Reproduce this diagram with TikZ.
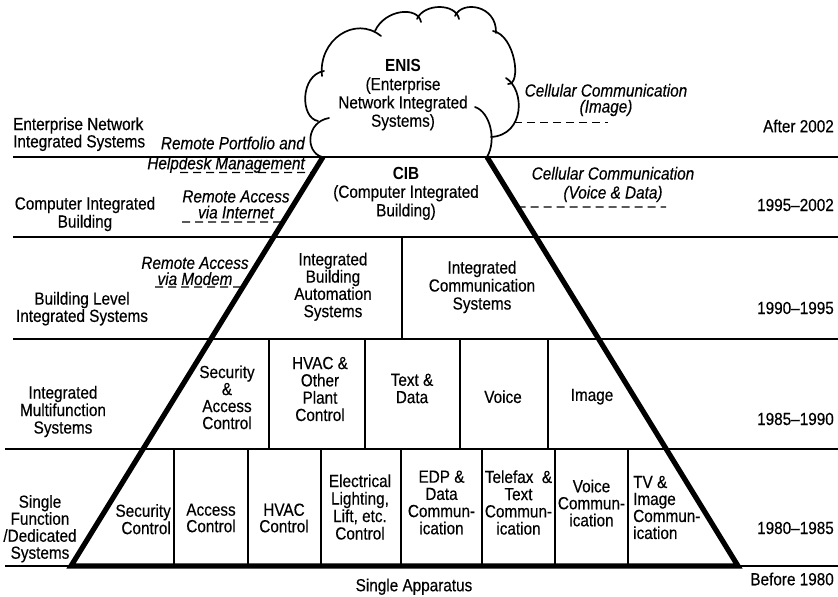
\documentclass[tikz,border=0pt]{standalone}
\usepackage{fontspec}
\setmainfont{Liberation Sans}[FakeStretch=0.875,
  UprightFeatures={FakeBold=0.35}, ItalicFeatures={FakeBold=0.35}]
\usetikzlibrary{calc}
\newcommand\tsz[1]{\fontsize{17.5}{#1}\selectfont}
\begin{document}
\begin{tikzpicture}[x=1pt,y=-1pt,
  lbl/.style={inner sep=0pt, align=center, font=\tsz{#1}},
  lbl/.default=17.3,
  it/.style={inner sep=0pt, align=center, font=\tsz{#1}\itshape},
  it/.default=17.3,
  hline/.style={line width=1.4pt},
  vline/.style={line width=1.4pt},
  edgeline/.style={line width=5.2pt, line join=miter},
  leader/.style={line width=1.3pt, dash pattern=on 8pt off 5pt},
  cloudline/.style={line width=1.7pt, line cap=round}]
\useasboundingbox (0,0) rectangle (838,597);

% pyramid corners
\coordinate (TL) at (323,157);
\coordinate (TR) at (487,157);
\coordinate (BL) at (71,566);
\coordinate (BR) at (738,566);

% horizontal bands
\draw[hline] (13,157) -- (838,157);
\draw[hline] (13,237) -- (838,237);
\draw[hline] (13,339) -- (838,339);
\draw[hline] (5,449) -- (838,449);
\draw[hline] (5,566) -- (838,566);

% vertical dividers
\draw[vline] (402,237) -- (402,339);
\foreach \x in {269,365,460,548} \draw[vline] (\x,339) -- (\x,449);
\foreach \x in {174,248,321,401,482,555,628} \draw[vline] (\x,449) -- (\x,566);

% dashed leaders
\coordinate (p1a) at (180,172.5);
\coordinate (p1b) at ($(TL)!0.038!(BL)$);
\coordinate (p2a) at (182,222);
\coordinate (p2b) at ($(TL)!0.159!(BL)$);
\coordinate (p3a) at (155,287);
\coordinate (p3b) at ($(TL)!0.3178!(BL)$);
\coordinate (p4a) at (514,122.7);
\coordinate (p4b) at (608,122.7);
\coordinate (p5a) at ($(TR)!0.1222!(BR)$);
\coordinate (p5b) at (666,207);
\draw[leader] (p1a) -- (p1b);
\draw[leader] (p2a) -- (p2b);
\draw[leader] (p3a) -- (p3b);
\draw[leader] (p4a) -- (p4b);
\draw[leader] (p5a) -- (p5b);

% pyramid outline
\draw[edgeline] (TL) -- (BL) -- (BR) -- (TR);

% cloud
\draw[cloudline] (322,157) .. controls (305,152) and (306,122) .. (329,118);
\draw[cloudline] (318,121) .. controls (300,118) and (300,75) .. (324,71);
\draw[cloudline] (322,76) .. controls (318,40) and (355,15) .. (381,36);
\draw[cloudline] (375,31) .. controls (385,9) and (418,6) .. (421,22);
\draw[cloudline] (417,19) .. controls (424,3) and (456,3) .. (459,19);
\draw[cloudline] (455,16) .. controls (462,0) and (497,5) .. (496,33);
\draw[cloudline] (493,31) .. controls (515,35) and (522,85) .. (508,84);
\draw[cloudline] (506,78) .. controls (525,90) and (525,135) .. (491,137);
\draw[cloudline] (475,107) .. controls (490,112) and (497,140) .. (487,157);

% cloud and apex text
\node[lbl=18.3] (enis) at (403,95) {\textbf{ENIS}\\(Enterprise\\Network Integrated\\Systems)};
\node[lbl=18.5] (cib) at (406,193.5) {\textbf{CIB}\\(Computer Integrated\\Building)};

% left labels
\node[lbl=15, align=left, anchor=west] (l1) at (13,134.2) {Enterprise Network\\Integrated Systems};
\node[lbl=18] (l2) at (85,214) {Computer Integrated\\Building};
\node[lbl=17.3] (l3) at (82,308.7) {Building Level\\Integrated Systems};
\node[lbl=17.5] (l4) at (63,411.5) {Integrated\\Multifunction\\Systems};
\node[lbl=17] (l5) at (40,528.7) {Single\\Function\\/Dedicated\\Systems};

% right labels
\node[lbl, anchor=east] (r1) at (834,126) {After 2002};
\node[lbl, anchor=east] (r2) at (834,205) {1995--2002};
\node[lbl, anchor=east] (r3) at (834,308) {1990--1995};
\node[lbl, anchor=east] (r4) at (834,419) {1985--1990};
\node[lbl, anchor=east] (r5) at (834,528) {1980--1985};
\node[lbl, anchor=east] (r6) at (834,579) {Before 1980};

\node[lbl] (sa) at (414,586.7) {Single Apparatus};

% 1990-1995 cells
\node[lbl=17.3] (iba) at (333,286.7) {Integrated\\Building\\Automation\\Systems};
\node[lbl=18] (ics) at (482,287) {Integrated\\Communication\\Systems};

% 1985-1990 cells
\node[lbl=17] (sac) at (227,397.3) {Security\\\&\\Access\\Control};
\node[lbl=17.3] (hvo) at (320,389) {HVAC \&\\Other\\Plant\\Control};
\node[lbl=17.3] (td) at (412,388.5) {Text \&\\Data};
\node[lbl] (voice) at (503,396.7) {Voice};
\node[lbl] (image) at (592,396.7) {Image};

% 1980-1985 cells
\node[lbl=15, align=right, anchor=east] (sc) at (171,519.2) {Security\\Control};
\node[lbl=16.5] (ac) at (211,518) {Access\\Control};
\node[lbl=16.5] (hc) at (284,518) {HVAC\\Control};
\node[lbl=17.5] (elc) at (360,507) {Electrical\\Lighting,\\Lift, etc.\\Control};
\node[lbl=17.2] (edp) at (441.5,502.5) {EDP \&\\Data\\Commun-\\ication};
\node[lbl=17.2] (tel) at (518.5,502.5) {Telefax~ \&\\Text\\Commun-\\ication};
\node[lbl=17] (vc) at (591.5,503) {Voice\\Commun-\\ication};
\node[lbl=17, align=left, anchor=west] (tv) at (633,507.5) {TV \&\\Image\\Commun-\\ication};

% italic annotations
\node[it=20, align=right, anchor=east] (rp) at (305,154.7) {Remote Portfolio and\\Helpdesk Management};
\node[it=16] (ri) at (236,204.5) {Remote Access\\via Internet};
\node[it=16] (rm) at (195,271) {Remote Access\\via Modem};
\node[it=16] (cci) at (606,100) {Cellular Communication\\(Image)};
\node[it=19] (ccv) at (613,184.5) {Cellular Communication\\(Voice \& Data)};
\end{tikzpicture}
\end{document}
